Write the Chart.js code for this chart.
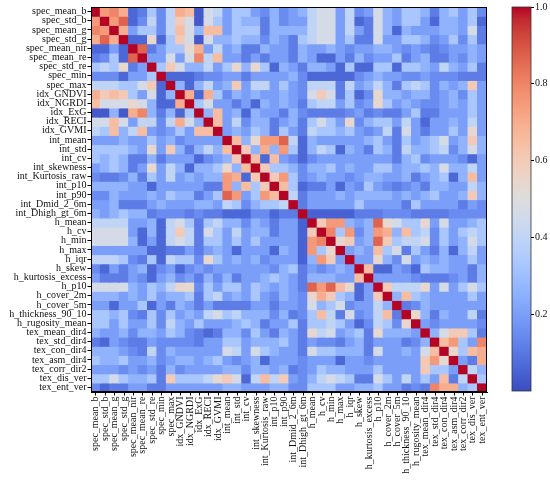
<!DOCTYPE html>
<html><head><meta charset="utf-8">
<script src="https://cdn.jsdelivr.net/npm/chart.js@4.4.1/dist/chart.umd.min.js"></script>
<style>
html,body{margin:0;padding:0;background:#fff;}
#wrap{position:relative;width:550px;height:483px;overflow:hidden;}
#main{position:absolute;left:0;top:0;}
#cbar{position:absolute;left:495px;top:0;}
</style></head><body>
<div id="wrap"><canvas id="main" width="550" height="483" style="width:550px;height:483px"></canvas><canvas id="cbar" width="55" height="483" style="width:55px;height:483px"></canvas></div>
<script>
const variables = ["spec_mean_b","spec_std_b","spec_mean_g","spec_std_g","spec_mean_nir","spec_mean_re","spec_std_re","spec_min","spec_max",
"idx_GNDVI","idx_NGRDI","idx_ExG","idx_RECI","idx_GVMI",
"int_mean","int_std","int_cv","int_skewness","int_Kurtosis_raw","int_p10","int_p90","int_Dmid_2_6m","int_Dhigh_gt_6m",
"h_mean","h_cv","h_min","h_max","h_iqr","h_skew","h_kurtosis_excess","h_p10","h_cover_2m","h_cover_5m","h_thickness_90_10","h_rugosity_mean",
"tex_mean_dir4","tex_std_dir4","tex_con_dir4","tex_asm_dir4","tex_corr_dir2","tex_dis_ver","tex_ent_ver"];

// |correlation| upper triangle: each row starts at its diagonal cell
const corrSpec = [
 [1,.75,.8,.7,.06,.11,.33,.15,.4,.7,.65,.03,.47,.4, .2,.33,.33,.2,.15,.26,.15,.2,.26,.4,.47,.47,.2,.4, .15,.2,.47,.26,.2,.33,.33,.26,.11,.26,.33,.2,.33,.15],
 [1,.75,.87,.06,.15,.4,.15,.4,.6,.47,.03,.47,.33, .2,.33,.26,.26,.11,.26,.15,.2,.2,.4,.47,.47,.2,.4, .06,.11,.47,.26,.2,.33,.33,.2,.06,.26,.26,.2,.33,.06],
 [1,.7,.2,.33,.33,.15,.4,.65,.47,.26,.65,.65, .2,.33,.33,.33,.11,.26,.26,.26,.26,.4,.47,.47,.2,.4, .2,.11,.47,.26,.06,.26,.2,.2,.2,.26,.26,.2,.47,.11],
 [1,.06,.06,.54,.06,.33,.6,.47,.03,.47,.26, .26,.33,.26,.26,.15,.26,.2,.11,.33,.4,.47,.47,.2,.33, .11,.11,.47,.2,.2,.33,.33,.26,.15,.2,.33,.15,.33,.11],
 [1,.87,.11,.2,.33,.33,.54,.7,.2,.4, .2,.26,.11,.11,.26,.2,.2,.11,.26,.2,.2,.26,.2,.15, .2,.2,.26,.26,.2,.15,.2,.15,.11,.15,.2,.2,.26,.2],
 [1,.2,.2,.47,.2,.47,.8,.4,.65, .2,.2,.11,.2,.11,.2,.2,.11,.26,.2,.06,.06,.2,.11, .26,.15,.2,.2,.33,.11,.2,.26,.11,.11,.2,.15,.26,.2],
 [1,.33,.6,.47,.26,.26,.4,.2, .33,.54,.26,.54,.33,.06,.26,.2,.11,.26,.26,.2,.06,.33, .06,.06,.33,.33,.06,.33,.33,.26,.2,.4,.26,.2,.33,.11],
 [1,.06,.06,.06,.11,.15,.15, .2,.2,.11,.2,.2,.2,.2,.26,.15,.06,.06,.06,.06,.06, .15,.2,.26,.2,.2,.15,.15,.2,.15,.15,.15,.11,.11,.11],
 [1,.26,.06,.26,.4,.2, .26,.6,.2,.4,.4,.2,.33,.2,.15,.4,.4,.4,.11,.4, .2,.26,.4,.26,.11,.33,.4,.33,.15,.26,.2,.26,.6,.2]
];
const corrIdx = [
 [1,.7,.06,.7,.33, .15,.26,.2,.26,.2,.2,.26,.2,.15,.47,.6,.47,.11,.33, .06,.15,.54,.26,.26,.2,.26,.26,.15,.2,.26,.15,.33,.2],
 [1,.33,.47,.2, .2,.11,.2,.06,.26,.2,.26,.2,.11,.33,.4,.4,.2,.33, .15,.2,.54,.33,.2,.26,.2,.15,.15,.2,.26,.2,.33,.2],
 [1,.26,.65, .2,.26,.06,.26,.2,.2,.11,.26,.15,.11,.11,.11,.11,.15, .2,.11,.15,.11,.11,.2,.33,.11,.11,.2,.2,.2,.33,.2],
 [1,.65, .2,.4,.15,.26,.26,.11,.2,.26,.11,.33,.47,.33,.2,.54, .15,.26,.33,.33,.2,.4,.2,.06,.2,.2,.26,.2,.4,.2],
 [1, .2,.26,.2,.33,.26,.11,.33,.2,.11,.4,.33,.33,.26,.33, .2,.15,.2,.4,.11,.47,.2,.11,.2,.2,.33,.2,.54,.2]
];
const corrInt = [
 [1,.65,.26,.54,.75,.75,.87,.4,.06,.26,.2,.2,.2,.2, .2,.26,.33,.2,.11,.33,.2,.26,.33,.47,.2,.26,.6,.26],
 [1,.6,.26,.7,.26,.75,.33,.06,.26,.4,.33,.06,.26, .2,.11,.33,.26,.11,.4,.26,.26,.33,.4,.15,.26,.47,.26],
 [1,.65,.06,.65,.2,.15,.06,.15,.2,.2,.2,.2, .2,.2,.2,.2,.11,.26,.33,.15,.2,.2,.2,.15,.06,.2],
 [1,.6,.33,.33,.26,.15,.26,.26,.33,.2,.26, .2,.2,.33,.33,.2,.26,.26,.33,.26,.47,.26,.26,.4,.2],
 [1,.6,.75,.33,.15,.2,.26,.2,.2,.15, .2,.26,.26,.2,.2,.26,.11,.2,.26,.33,.06,.26,.65,.2],
 [1,.65,.33,.06,.11,.11,.2,.06,.2, .15,.33,.2,.15,.11,.15,.2,.11,.26,.26,.2,.2,.4,.26],
 [1,.4,.11,.2,.2,.2,.26,.2, .26,.26,.26,.26,.2,.26,.2,.26,.33,.2,.2,.26,.6,.26],
 [1,.11,.2,.2,.2,.2,.2, .33,.2,.2,.2,.2,.11,.33,.2,.2,.2,.2,.11,.2,.15],
 [1,.05,.05,.05,.05,.05, .11,.11,.11,.15,.15,.15,.11,.11,.11,.11,.15,.15,.15,.15]
];
const corrH = [
 [1,.6,.75,.75,.26, .2,.26,.87,.54,.47,.33,.33,.54,.2,.47,.2,.2,.26,.33],
 [1,.8,.33,.75, .15,.26,.75,.7,.26,.65,.33,.4,.15,.33,.2,.33,.4,.33],
 [1,.54,.6, .2,.26,.87,.6,.33,.4,.4,.47,.15,.33,.2,.26,.47,.33],
 [1,.2, .26,.2,.65,.33,.47,.11,.33,.2,.11,.26,.06,.26,.4,.2],
 [1, .2,.2,.54,.26,.15,.47,.2,.26,.2,.26,.2,.2,.33,.2],
 [1,.65,.06,.06,.2,.15,.06,.33,.26,.26,.2,.2,.11,.26],
 [1,.2,.2,.2,.2,.15,.11,.11,.11,.15,.2,.11,.26],
 [1,.6,.4,.4,.4,.54,.2,.47,.2,.33,.47,.33],
 [1,.26,.65,.33,.26,.2,.2,.2,.2,.33,.2],
 [1,.11,.15,.26,.2,.2,.2,.2,.2,.2],
 [1,.54,.26,.11,.26,.2,.2,.4,.11],
 [1,.2,.15,.2,.2,.2,.2,.15]
];
const corrTex = [
 [1,.26,.47,.6,.6,.33,.11],
 [1,.65,.75,.33,.2,.8],
 [1,.54,.33,.65,.7],
 [1,.2,.11,.7],
 [1,.4,.26],
 [1,.33],
 [1]
];
const colorbarTicks = [0.2, 0.4, 0.6, 0.8, 1.0];

const upper = [...corrSpec, ...corrIdx, ...corrInt, ...corrH, ...corrTex];
const N = variables.length;
const cell = (r, c) => r <= c ? upper[r][c - r] : upper[c][r - c];

// matplotlib "coolwarm"
const cwStops = [[59,76,192],[68,90,204],[77,104,215],[87,117,225],[98,130,234],[108,142,241],[119,154,247],[130,165,251],[141,176,254],[152,185,255],[163,194,255],[174,201,253],[184,208,249],[194,213,244],[204,217,238],[213,219,230],[221,221,221],[229,216,209],[236,211,197],[241,204,185],[245,196,173],[247,187,160],[247,177,148],[247,166,135],[244,154,123],[241,141,111],[236,127,99],[229,112,88],[222,96,77],[213,80,66],[203,62,56],[192,40,47],[180,4,38]];
function coolwarm(v) {
  v = Math.max(0, Math.min(1, v));
  const p = v * (cwStops.length - 1), i = Math.min(Math.floor(p), cwStops.length - 2), t = p - i;
  const a = cwStops[i], b = cwStops[i + 1];
  return `rgb(${Math.round(a[0]+(b[0]-a[0])*t)},${Math.round(a[1]+(b[1]-a[1])*t)},${Math.round(a[2]+(b[2]-a[2])*t)})`;
}

const tickFont = { family: "'Liberation Serif', 'DejaVu Serif', serif", size: 10 };
const textColor = '#111';

const framePlugin = {
  id: 'frame',
  afterDatasetsDraw(chart) {
    const { ctx, chartArea: a } = chart;
    ctx.save(); ctx.strokeStyle = '#000'; ctx.lineWidth = 1;
    ctx.strokeRect(Math.round(a.left) + 0.5, Math.round(a.top) + 0.5, Math.round(a.right - a.left) - 1, Math.round(a.bottom - a.top) - 1);
    ctx.restore();
  }
};

const datasets = variables.map((rowName, r) => ({
  label: rowName,
  data: variables.map(() => 1),
  backgroundColor: variables.map((_, c) => coolwarm(cell(r, c))),
  borderWidth: 0,
  inflateAmount: 0.6,
  barPercentage: 1,
  categoryPercentage: 1
}));

new Chart(document.getElementById('main'), {
  type: 'bar',
  data: { labels: variables, datasets },
  plugins: [framePlugin],
  options: {
    responsive: false, animation: false,
    layout: { padding: { left: 3, top: 7, right: 63, bottom: 0 } },
    plugins: { legend: { display: false }, tooltip: { enabled: false } },
    scales: {
      x: {
        stacked: true,
        ticks: { autoSkip: false, maxRotation: 90, minRotation: 90, font: tickFont, color: textColor, padding: 1 },
        grid: { drawOnChartArea: false, offset: false, tickLength: 3.5, color: '#000' },
        border: { color: '#000' },
        afterFit: s => { s.height = 91; }
      },
      y: {
        stacked: true, reverse: true, min: 0, max: N,
        afterBuildTicks: ax => { ax.ticks = variables.map((_, i) => ({ value: i + 0.5 })); },
        ticks: { autoSkip: false, font: tickFont, color: textColor, padding: 1, callback: (v, i) => variables[i] },
        grid: { drawOnChartArea: false, tickLength: 3.5, color: '#000' },
        border: { color: '#000' },
        afterFit: s => { s.width = 88; }
      }
    }
  }
});

function cbGradient(chart) {
  const a = chart.chartArea;
  if (!a) return coolwarm(0.5);
  const g = chart.ctx.createLinearGradient(0, a.bottom, 0, a.top);
  cwStops.forEach((s, i) => g.addColorStop(i / (cwStops.length - 1), `rgb(${s[0]},${s[1]},${s[2]})`));
  return g;
}
const cbFrame = {
  id: 'cbFrame',
  afterDatasetsDraw(chart) {
    const { ctx, chartArea: a } = chart;
    ctx.save(); ctx.strokeStyle = '#333'; ctx.lineWidth = 0.8;
    ctx.strokeRect(a.left, a.top, a.right - a.left, a.bottom - a.top);
    ctx.restore();
  }
};
new Chart(document.getElementById('cbar'), {
  type: 'bar',
  data: { labels: [''], datasets: [{ data: [1], backgroundColor: ctx => cbGradient(ctx.chart), borderWidth: 0, barPercentage: 1, categoryPercentage: 1 }] },
  plugins: [cbFrame],
  options: {
    responsive: false, animation: false,
    layout: { padding: { left: 17, top: 7, right: 0, bottom: 92 } },
    plugins: { legend: { display: false }, tooltip: { enabled: false } },
    scales: {
      x: { display: false },
      y: {
        position: 'right', min: 0, max: 1,
        afterBuildTicks: ax => { ax.ticks = colorbarTicks.map(v => ({ value: v })); },
        ticks: { font: tickFont, color: textColor, padding: 1, callback: v => Number(v).toFixed(1) },
        grid: { drawOnChartArea: false, tickLength: 3, color: '#000' },
        border: { display: false },
        afterFit: s => { s.width = 19; }
      }
    }
  }
});
</script>
</body></html>
